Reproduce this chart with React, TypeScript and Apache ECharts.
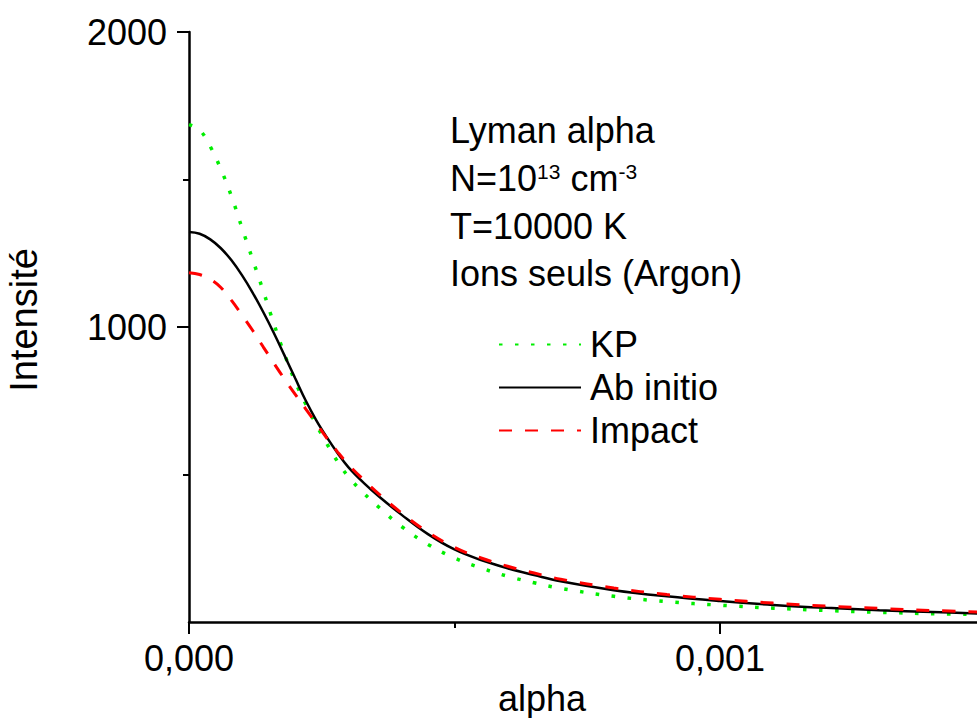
import React, { useEffect, useRef } from "react";
import * as echarts from "echarts";

const alphaValues = [
  0, 0.00002, 0.00004, 0.00006, 0.00008, 0.0001, 0.00012, 0.00014, 0.00016, 0.00018,
  0.0002, 0.00022, 0.00024, 0.00026, 0.00028, 0.0003, 0.00033, 0.00036, 0.0004, 0.00045,
  0.0005, 0.00055, 0.0006, 0.00065, 0.0007, 0.0008, 0.0009, 0.001, 0.0011, 0.0012,
  0.0013, 0.0014, 0.0015,
];
const kpValues = [
  1686, 1668, 1612, 1535, 1443, 1335, 1228, 1121, 1010, 907,
  815, 738, 668, 603, 543, 493, 435, 385, 324, 263,
  217, 183, 155, 133, 114, 87, 69, 57, 47, 39,
  33, 28, 25,
];
const abInitioValues = [
  1322, 1316, 1297, 1267, 1226, 1175, 1116, 1050, 979, 903,
  826, 750, 683, 625, 572, 525, 470, 422, 364, 298,
  246, 210, 182, 159, 138, 108, 87, 71, 58, 48,
  40, 34, 28,
];
const impactValues = [
  1184, 1178, 1162, 1134, 1090, 1040, 988, 932, 877, 823,
  772, 722, 672, 622, 576, 534, 480, 430, 370, 304,
  253, 217, 189, 166, 145, 115, 93, 77, 64, 54,
  46, 39, 33,
];
const seriesNames = ["KP", "Ab initio", "Impact"];
const yTickValues = [1000, 2000];
const xLabelValues = [0, 0.001];
const annotationLines = ["Lyman alpha", "N=10{sup|13} cm{sup|-3}", "T=10000 K", "Ions seuls (Argon)"];

const FONT = "'Liberation Sans', Arial, Helvetica, sans-serif";

function pairs(xs: number[], ys: number[]) {
  return xs.map((x, i) => [x, ys[i]]);
}

export default function App() {
  const ref = useRef<HTMLDivElement>(null);
  useEffect(() => {
    if (!ref.current) return;
    const chart = echarts.init(ref.current, undefined, { renderer: "svg" });
    const baselines = [143, 191.5, 239, 286.5];
    chart.setOption({
      animation: false,
      backgroundColor: "#ffffff",
      textStyle: { fontFamily: FONT },
      grid: {
        left: 189,
        top: 32,
        width: 1062,
        height: 590,
        containLabel: false,
        outerBoundsMode: "none",
      },
      xAxis: {
        type: "value",
        min: 0,
        max: 0.002,
        interval: 0.001,
        name: "alpha",
        nameLocation: "middle",
        nameGap: 61,
        nameTextStyle: { fontSize: 36, lineHeight: 30, color: "#000", fontFamily: FONT, padding: [0, 356, 0, 0] },
        axisLine: { show: true, lineStyle: { color: "#000", width: 2.5 } },
        axisTick: { show: true, inside: false, length: 12, lineStyle: { color: "#000", width: 2 } },
        minorTick: { show: true, splitNumber: 2, length: 6, lineStyle: { color: "#000", width: 2 } },
        axisLabel: {
          fontSize: 36,
          color: "#000",
          fontFamily: FONT,
          margin: 18,
          customValues: xLabelValues,
          formatter: (v: number) => v.toFixed(3).replace(".", ","),
        },
        splitLine: { show: false },
      },
      yAxis: {
        type: "value",
        min: 0,
        max: 2000,
        interval: 1000,
        name: "Intensité",
        nameLocation: "middle",
        nameGap: 146,
        nameRotate: 90,
        nameTextStyle: { fontSize: 38, color: "#000", fontFamily: FONT, padding: [0, 0, 0, 14] },
        axisLine: { show: true, lineStyle: { color: "#000", width: 2.5 } },
        axisTick: { show: true, length: 12, customValues: yTickValues, lineStyle: { color: "#000", width: 2 } },
        minorTick: { show: true, splitNumber: 2, length: 6, lineStyle: { color: "#000", width: 2 } },
        axisLabel: {
          fontSize: 36,
          color: "#000",
          fontFamily: FONT,
          margin: 22,
          customValues: yTickValues,
          formatter: (v: number) => String(v),
        },
        splitLine: { show: false },
      },
      legend: {
        orient: "vertical",
        left: 498,
        top: 323,
        itemWidth: 82,
        itemHeight: 10,
        itemGap: 0,
        padding: 0,
        itemStyle: { opacity: 0 },
        textStyle: { fontSize: 36, color: "#000", fontFamily: FONT, lineHeight: 43, padding: [0, 0, 0, 4] },
        data: seriesNames,
      },
      graphic: annotationLines.map((t, i) => ({
        type: "text",
        left: 450,
        top: baselines[i] - 31,
        style: {
          text: t,
          font: `36px ${FONT}`,
          fill: "#000",
          rich: {
            sup: { fontSize: 21, fontFamily: FONT, fill: "#000", verticalAlign: "top", lineHeight: 12 },
          },
        },
      })),
      series: [
        {
          name: seriesNames[0],
          type: "line",
          symbol: "none",
          smooth: 0.4,
          data: pairs(alphaValues, kpValues),
          lineStyle: { color: "#00ee00", width: 3.5, type: [3.5, 12.5] },
          itemStyle: { color: "#00ee00" },
          z: 2,
        },
        {
          name: seriesNames[1],
          type: "line",
          symbol: "none",
          smooth: 0.4,
          data: pairs(alphaValues, abInitioValues),
          lineStyle: { color: "#000000", width: 2.5, type: "solid" },
          itemStyle: { color: "#000000" },
          z: 3,
        },
        {
          name: seriesNames[2],
          type: "line",
          symbol: "none",
          smooth: 0.4,
          data: pairs(alphaValues, impactValues),
          lineStyle: { color: "#ff0000", width: 3, type: [13, 13] },
          itemStyle: { color: "#ff0000" },
          z: 4,
        },
      ],
    });
    return () => chart.dispose();
  }, []);
  return (
    <div
      ref={ref}
      style={{ position: "fixed", left: 0, top: 0, width: 977, height: 718, background: "#fff" }}
    />
  );
}
